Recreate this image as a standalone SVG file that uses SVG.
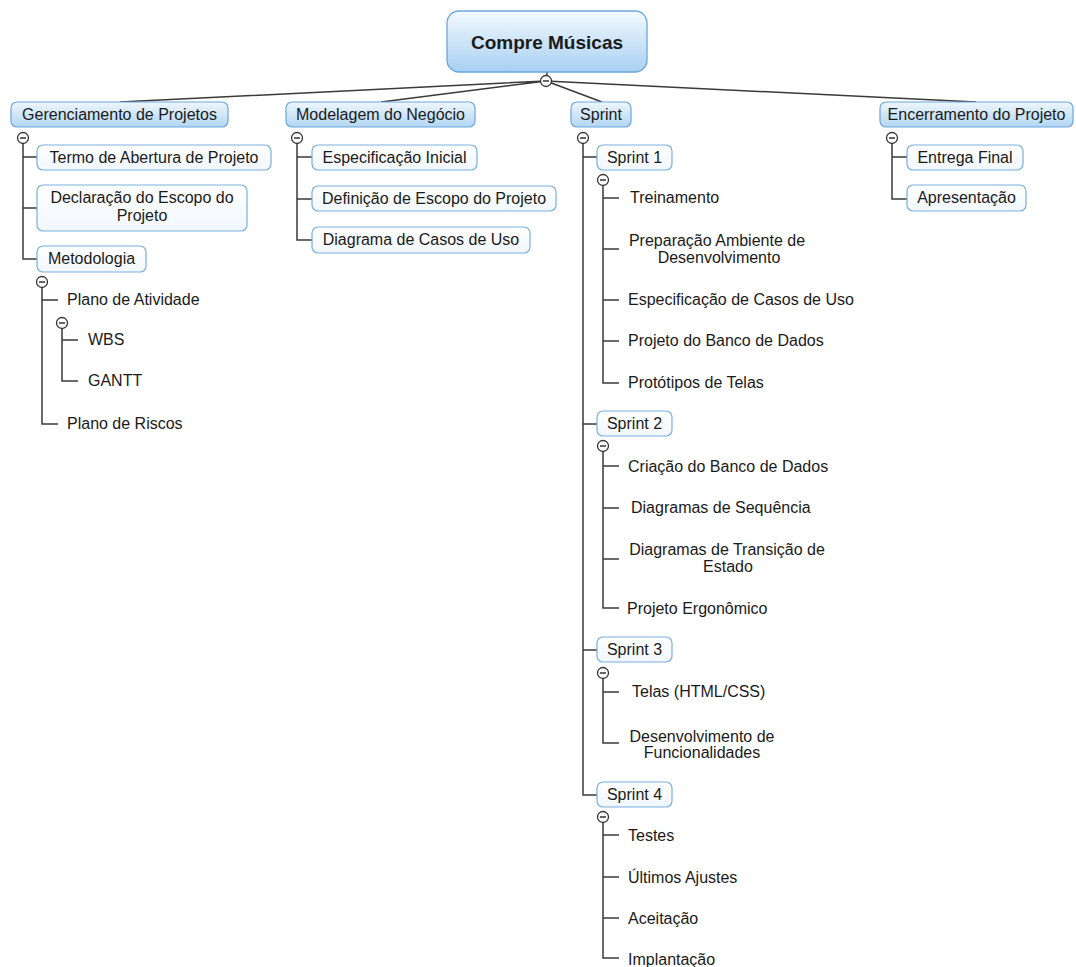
<svg xmlns="http://www.w3.org/2000/svg" width="1076" height="967" viewBox="0 0 1076 967">
<defs>
<linearGradient id="gRoot" x1="0" y1="0" x2="0" y2="1">
<stop offset="0" stop-color="#f3f9fe"/><stop offset="1" stop-color="#a8d0f2"/>
</linearGradient>
<linearGradient id="gL1" x1="0" y1="0" x2="0" y2="1">
<stop offset="0" stop-color="#eef6fd"/><stop offset="1" stop-color="#b3d6f4"/>
</linearGradient>
<linearGradient id="gL2" x1="0" y1="0" x2="0" y2="1">
<stop offset="0" stop-color="#ffffff"/><stop offset="1" stop-color="#f1f7fd"/>
</linearGradient>
<g id="col"><circle r="5.5" fill="#fff" stroke="#333" stroke-width="1.3"/><line x1="-3" y1="0" x2="3" y2="0" stroke="#333" stroke-width="1.5"/></g>
</defs>
<style>
text{font-family:"Liberation Sans",Arial,sans-serif;font-size:16px;fill:#1a1a1a}
.c{text-anchor:middle}
.root{font-size:19px;font-weight:bold}
.b0{fill:url(#gRoot);stroke:#6ba7dc;stroke-width:1.3}
.b1{fill:url(#gL1);stroke:#6ba7dc;stroke-width:1.2}
.b2{fill:url(#gL2);stroke:#7ab0de;stroke-width:1.2}
.ln{fill:none;stroke:#3a3a3a;stroke-width:1.5}
</style>
<rect width="1076" height="967" fill="#fff"/>
<g id="connectors">
<path class="ln" d="M547 72V75"/>
<path class="ln" d="M546 81L120 102M546 81L381 102M546 81L602 102M546 81L976 102"/>
<path class="ln" d="M23 144V259H37M23 157H37M23 208H37"/>
<path class="ln" d="M42 288V424H58M42 300H58"/>
<path class="ln" d="M62 329V381H78M62 340H78"/>
<path class="ln" d="M297 144V240H312M297 157H312M297 199H312"/>
<path class="ln" d="M583 144V795H597M583 157H597M583 424H597M583 650H597"/>
<path class="ln" d="M603 186V383H619M603 198H619M603 249H619M603 300H619M603 341H619"/>
<path class="ln" d="M603 452V608H619M603 466H619M603 508H619M603 559H619"/>
<path class="ln" d="M603 679V743H619M603 692H619"/>
<path class="ln" d="M603 823V958H619M603 835H619M603 877H619M603 918H619"/>
<path class="ln" d="M892 144V199H907M892 157H907"/>
<use href="#col" x="546" y="81"/>
<use href="#col" x="23" y="138"/>
<use href="#col" x="42" y="282"/>
<use href="#col" x="62" y="323"/>
<use href="#col" x="297" y="138"/>
<use href="#col" x="583" y="138"/>
<use href="#col" x="603" y="180"/>
<use href="#col" x="603" y="446"/>
<use href="#col" x="603" y="673"/>
<use href="#col" x="603" y="817"/>
<use href="#col" x="892" y="138"/>
</g>
<g id="root"><rect class="b0" x="447" y="11" width="200" height="61" rx="12"/><text class="c root" x="547" y="49">Compre Músicas</text></g>
<g id="n-gerenciamento"><rect class="b1" x="11" y="102" width="217" height="25" rx="6"/><text class="c" x="119.5" y="120">Gerenciamento de Projetos</text></g>
<g id="n-modelagem"><rect class="b1" x="286" y="102" width="189" height="25" rx="6"/><text class="c" x="380.5" y="120">Modelagem do Negócio</text></g>
<g id="n-sprint"><rect class="b1" x="571" y="102" width="60" height="25" rx="6"/><text class="c" x="601" y="120">Sprint</text></g>
<g id="n-encerramento"><rect class="b1" x="880" y="102" width="193" height="25" rx="6"/><text class="c" x="976.5" y="120">Encerramento do Projeto</text></g>
<g id="n-termo"><rect class="b2" x="37" y="145" width="234" height="25" rx="6"/><text class="c" x="154" y="163">Termo de Abertura de Projeto</text></g>
<g id="n-declaracao"><rect class="b2" x="37" y="185" width="210" height="46" rx="6"/><text class="c" x="142" y="203">Declaração do Escopo do</text><text class="c" x="142" y="221">Projeto</text></g>
<g id="n-metodologia"><rect class="b2" x="37" y="246" width="109" height="26" rx="6"/><text class="c" x="91.5" y="264">Metodologia</text></g>
<g id="n-plano-atividade"><text x="67" y="305">Plano de Atividade</text></g>
<g id="n-wbs"><text x="88" y="345">WBS</text></g>
<g id="n-gantt"><text x="88" y="386">GANTT</text></g>
<g id="n-plano-riscos"><text x="67" y="429">Plano de Riscos</text></g>
<g id="n-espec-inicial"><rect class="b2" x="312" y="145" width="165" height="25" rx="6"/><text class="c" x="394.5" y="163">Especificação Inicial</text></g>
<g id="n-definicao"><rect class="b2" x="312" y="186" width="244" height="25" rx="6"/><text class="c" x="434" y="204">Definição de Escopo do Projeto</text></g>
<g id="n-diagrama-casos"><rect class="b2" x="312" y="227" width="218" height="26" rx="6"/><text class="c" x="421" y="245">Diagrama de Casos de Uso</text></g>
<g id="n-sprint1"><rect class="b2" x="597" y="145" width="75" height="25" rx="6"/><text class="c" x="634.5" y="163">Sprint 1</text></g>
<g id="n-treinamento"><text x="630" y="203">Treinamento</text></g>
<g id="n-preparacao"><text class="c" x="717" y="246">Preparação Ambiente de</text><text class="c" x="719" y="263">Desenvolvimento</text></g>
<g id="n-espec-casos"><text x="628" y="305">Especificação de Casos de Uso</text></g>
<g id="n-projeto-bd"><text x="628" y="346">Projeto do Banco de Dados</text></g>
<g id="n-prototipos"><text x="628" y="388">Protótipos de Telas</text></g>
<g id="n-sprint2"><rect class="b2" x="597" y="411" width="75" height="25" rx="6"/><text class="c" x="634.5" y="429">Sprint 2</text></g>
<g id="n-criacao-bd"><text x="628" y="472">Criação do Banco de Dados</text></g>
<g id="n-diag-seq"><text x="631" y="513">Diagramas de Sequência</text></g>
<g id="n-diag-trans"><text class="c" x="727" y="555">Diagramas de Transição de</text><text class="c" x="728" y="572">Estado</text></g>
<g id="n-ergonomico"><text x="627" y="614">Projeto Ergonômico</text></g>
<g id="n-sprint3"><rect class="b2" x="597" y="637" width="75" height="25" rx="6"/><text class="c" x="634.5" y="655">Sprint 3</text></g>
<g id="n-telas"><text x="632" y="697">Telas (HTML/CSS)</text></g>
<g id="n-desenv"><text class="c" x="702" y="742">Desenvolvimento de</text><text class="c" x="702" y="758">Funcionalidades</text></g>
<g id="n-sprint4"><rect class="b2" x="597" y="782" width="75" height="25" rx="6"/><text class="c" x="634.5" y="800">Sprint 4</text></g>
<g id="n-testes"><text x="628" y="841">Testes</text></g>
<g id="n-ultimos"><text x="628" y="883">Últimos Ajustes</text></g>
<g id="n-aceitacao"><text x="628" y="924">Aceitação</text></g>
<g id="n-implantacao"><text x="628" y="965">Implantação</text></g>
<g id="n-entrega"><rect class="b2" x="907" y="145" width="116" height="25" rx="6"/><text class="c" x="965" y="163">Entrega Final</text></g>
<g id="n-apresentacao"><rect class="b2" x="907" y="185" width="119" height="26" rx="6"/><text class="c" x="966.5" y="203">Apresentação</text></g>
</svg>
